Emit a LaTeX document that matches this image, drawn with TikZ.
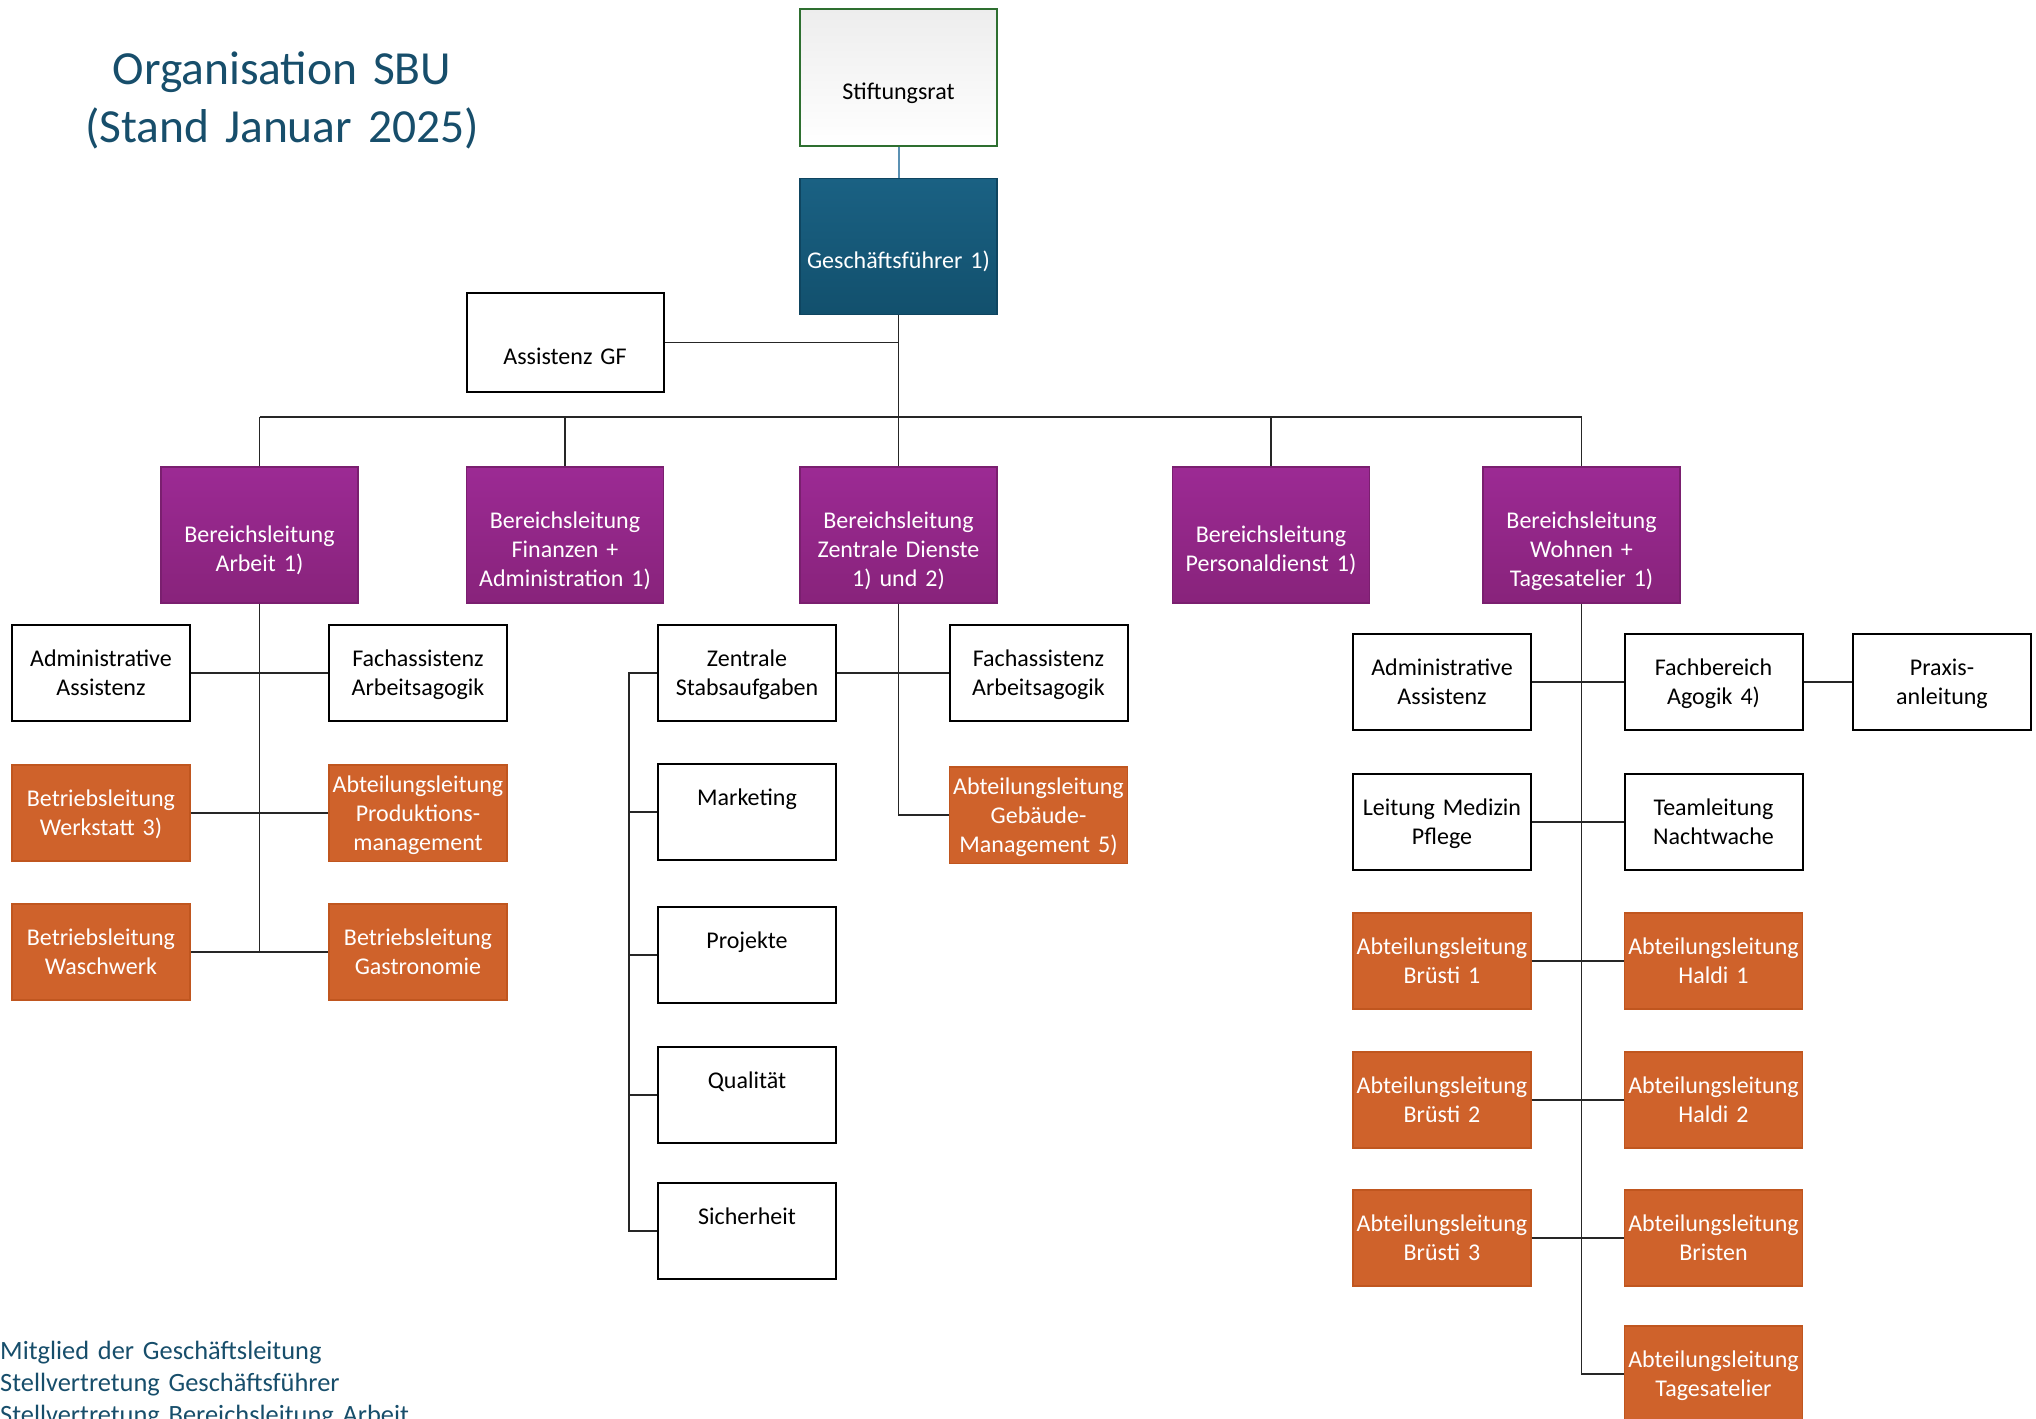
\documentclass[tikz,border=0pt]{standalone}
\usepackage{fontspec}
\setmainfont{Carlito}
\usetikzlibrary{positioning}

\definecolor{titleblue}{HTML}{174E6B}
\definecolor{gfTop}{HTML}{1A6183}
\definecolor{gfBot}{HTML}{12506D}
\definecolor{gfEdge}{HTML}{0F4560}
\definecolor{bereichTop}{HTML}{9C2A94}
\definecolor{bereichBot}{HTML}{88237B}
\definecolor{bereichEdge}{HTML}{7A1F6F}
\definecolor{abtFill}{HTML}{CF622B}
\definecolor{abtEdge}{HTML}{C0561F}
\definecolor{ratEdge}{HTML}{2E6F30}
\definecolor{ratLink}{HTML}{5B91B3}

\newcommand{\boxfont}{\fontsize{24}{29}\selectfont}

\begin{document}
\begin{tikzpicture}[
        x=1pt, y=-1pt,
        box/.style={rectangle, inner xsep=2pt, inner ysep=2pt, align=center, font=\boxfont,
            execute at begin node={\rule{0pt}{25.5pt}}, execute at end node=\strut},
        small/.style={box, minimum width=178pt, minimum height=96pt, text width=174pt},
        big/.style={box, minimum width=197pt, minimum height=136pt, text width=190pt,
            execute at begin node={\rule{0pt}{53.5pt}}},
        plain/.style={draw=black, line width=2pt, fill=white},
        bereich/.style={big, draw=bereichEdge, line width=1.2pt, top color=bereichTop, bottom color=bereichBot, text=white},
        abt/.style={small, draw=abtEdge, line width=1.2pt, fill=abtFill, text=white},
        link/.style={draw=black!85, line width=1.8pt},
        titel/.style={align=center, text=titleblue, font={\fontsize{47.5}{57.5}\selectfont}, text width=460pt, inner sep=0pt},
        legende/.style={align=left, text=titleblue, font={\fontsize{26.4}{32}\selectfont}, text width=700pt, inner sep=0pt}
    ]
    \useasboundingbox (0,0) rectangle (2036,1418);

    \node[titel, anchor=base] (title) at (282,85) {Organisation SBU\\(Stand Januar 2025)};

    % Leitung
    \node[big, draw=ratEdge, line width=2pt, top color=gray!14, bottom color=white] (rat) at (898.5,77.5) {Stiftungsrat};
    \node[big, draw=gfEdge, line width=1.2pt, top color=gfTop, bottom color=gfBot, text=white] (gf) at (898.5,246.5) {Geschäftsführer 1)};
    \node[big, plain, minimum height=99pt] (agf) at (565,342.5) {Assistenz GF};

    \node[bereich] (bla) at (259.5,535) {Bereichsleitung\\Arbeit 1)};
    \node[bereich] (blf) at (565,535) {Bereichsleitung\\Finanzen +\\Administration 1)};
    \node[bereich] (blz) at (898.5,535) {Bereichsleitung\\Zentrale Dienste\\1) und 2)};
    \node[bereich] (blp) at (1271,535) {Bereichsleitung\\Personaldienst 1)};
    \node[bereich] (blw) at (1581.5,535) {Bereichsleitung\\Wohnen +\\Tagesatelier 1)};

    % Arbeit
    \node[small, plain] (aa1) at (101,673) {Administrative\\Assistenz};
    \node[small, plain] (fa1) at (418,673) {Fachassistenz\\Arbeitsagogik};
    \node[abt] (bw) at (101,813) {Betriebsleitung\\Werkstatt 3)};
    \node[abt] (ap) at (418,813) {Abteilungsleitung\\Produktions-\\management};
    \node[abt] (bwa) at (101,952) {Betriebsleitung\\Waschwerk};
    \node[abt] (bg) at (418,952) {Betriebsleitung\\Gastronomie};

    % Zentrale Dienste
    \node[small, plain] (zsa) at (747,673) {Zentrale\\Stabsaufgaben};
    \node[small, plain] (mkt) at (747,812) {Marketing\\\strut};
    \node[small, plain] (proj) at (747,955) {Projekte\\\strut};
    \node[small, plain] (qual) at (747,1095) {Qualität\\\strut};
    \node[small, plain] (sich) at (747,1231) {Sicherheit\\\strut};
    \node[small, plain] (fa2) at (1038.5,673) {Fachassistenz\\Arbeitsagogik};
    \node[abt] (agm) at (1038.5,815) {Abteilungsleitung\\Gebäude-\\Management 5)};

    % Wohnen + Tagesatelier
    \node[small, plain] (aa2) at (1442,682) {Administrative\\Assistenz};
    \node[small, plain] (fb) at (1713.5,682) {Fachbereich\\Agogik 4)};
    \node[small, plain] (praxis) at (1942,682) {Praxis-\\anleitung};
    \node[small, plain] (lmp) at (1442,822) {Leitung Medizin\\Pflege};
    \node[small, plain] (tln) at (1713.5,822) {Teamleitung\\Nachtwache};
    \node[abt] (b1) at (1442,961) {Abteilungsleitung\\Brüsti 1};
    \node[abt] (h1) at (1713.5,961) {Abteilungsleitung\\Haldi 1};
    \node[abt] (b2) at (1442,1100) {Abteilungsleitung\\Brüsti 2};
    \node[abt] (h2) at (1713.5,1100) {Abteilungsleitung\\Haldi 2};
    \node[abt] (b3) at (1442,1238) {Abteilungsleitung\\Brüsti 3};
    \node[abt] (bris) at (1713.5,1238) {Abteilungsleitung\\Bristen};
    \node[abt] (tag) at (1713.5,1374) {Abteilungsleitung\\Tagesatelier};

    % Verbindungen
    \draw[link, draw=ratLink, line width=2pt] (rat) -- (gf);
    \coordinate (bus) at (0,417);
    \draw[link] (gf.south) -- (gf.south |- bus);
    \draw[link] (agf.east) -- (agf.east -| gf.south);
    \draw[link] (bla.north |- bus) -- (blw.north |- bus);
    \foreach \b in {bla,blf,blz,blp,blw}
        \draw[link] (\b.north |- bus) -- (\b.north);

    \draw[link] (bla.south) -- (bla.south |- bwa.east);
    \draw[link] (aa1.east) -- (fa1.west);
    \draw[link] (bw.east) -- (ap.west);
    \draw[link] (bwa.east) -- (bg.west);

    \draw[link] (blz.south) |- (agm.west);
    \draw[link] (zsa.east) -- (fa2.west);
    \coordinate (rail) at (629,0);
    \draw[link] (zsa.west) -- (zsa.west -| rail) |- (sich.west);
    \foreach \s in {mkt,proj,qual}
        \draw[link] (\s.west -| rail) -- (\s.west);

    \draw[link] (blw.south) |- (tag.west);
    \draw[link] (aa2.east) -- (fb.west);
    \draw[link] (fb.east) -- (praxis.west);
    \draw[link] (lmp.east) -- (tln.west);
    \draw[link] (b1.east) -- (h1.west);
    \draw[link] (b2.east) -- (h2.west);
    \draw[link] (b3.east) -- (bris.west);

    \node[legende, anchor=base west] (legend) at (0,1359) {Mitglied der Geschäftsleitung\\Stellvertretung Geschäftsführer\\Stellvertretung Bereichsleitung Arbeit};
\end{tikzpicture}
\end{document}
